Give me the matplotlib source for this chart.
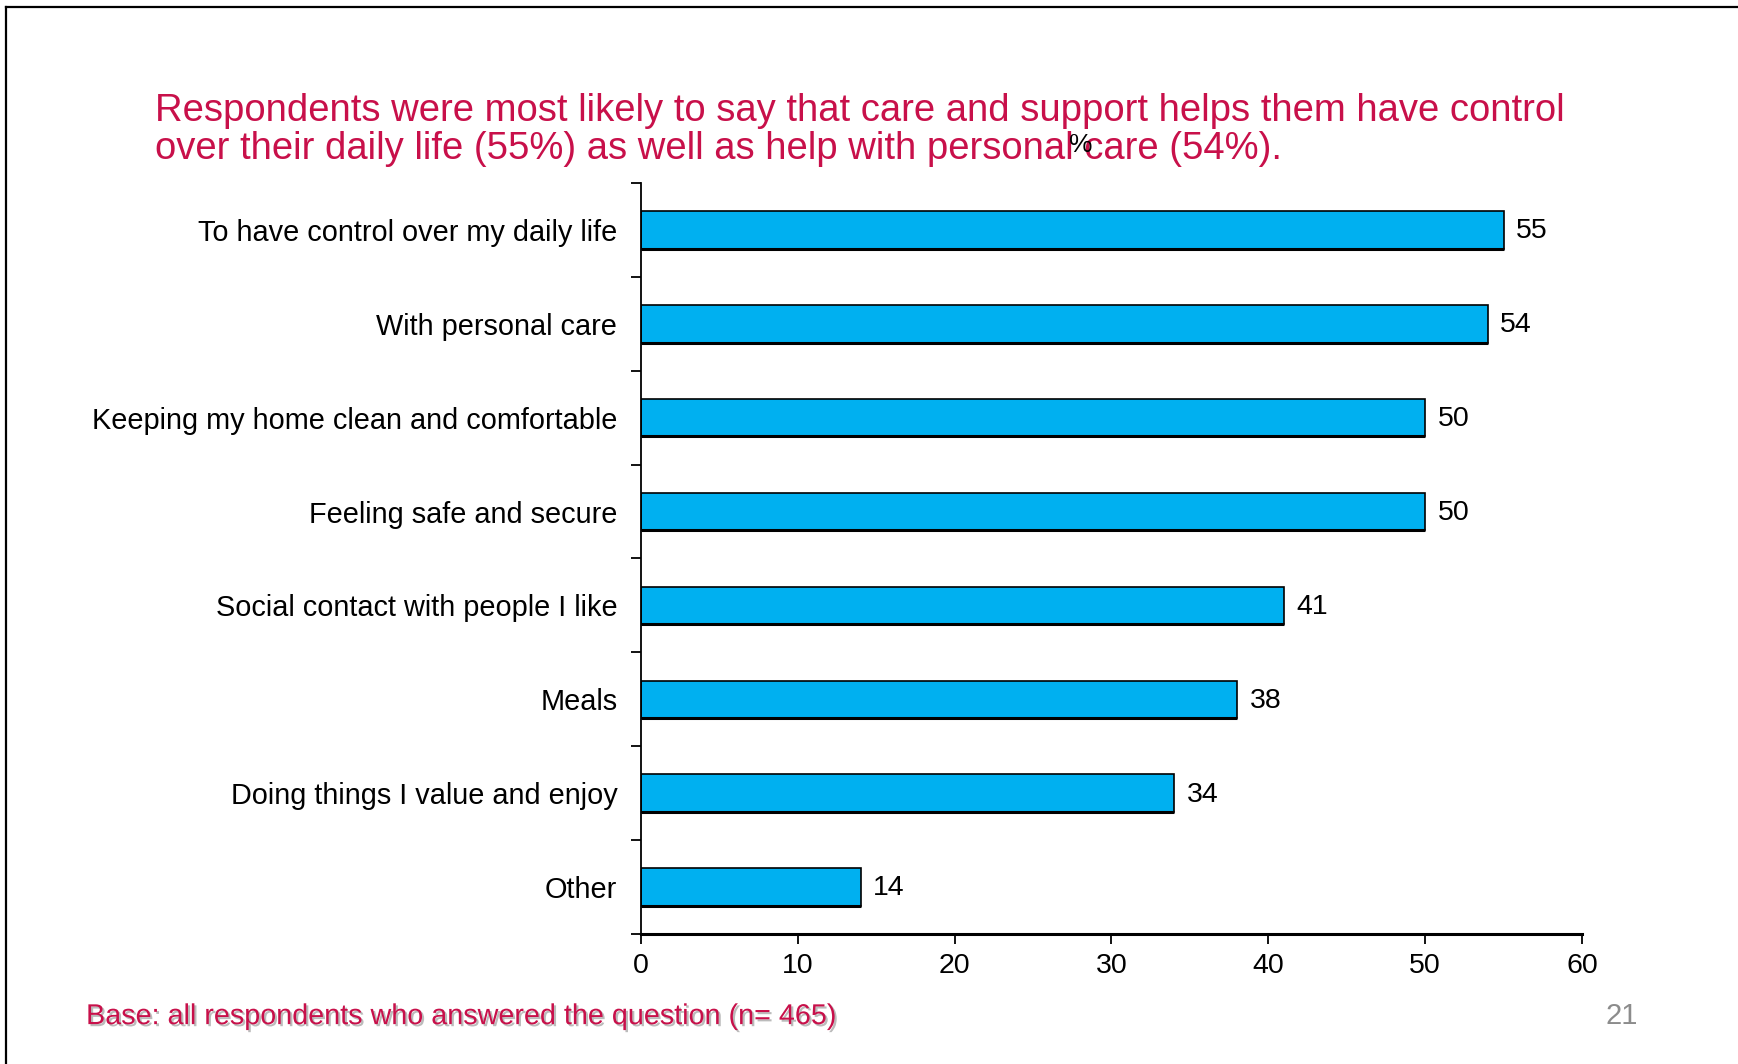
import matplotlib.pyplot as plt
import matplotlib.patheffects as pe
from matplotlib.lines import Line2D

categories = ['To have control over my daily life', 'With personal care',
              'Keeping my home clean and comfortable', 'Feeling safe and secure',
              'Social contact with people I like', 'Meals',
              'Doing things I value and enjoy', 'Other']
values = [55, 54, 50, 50, 41, 38, 34, 14]
xticks = [0, 10, 20, 30, 40, 50, 60]

title_text = ('Respondents were most likely to say that care and support helps them have control\n'
              'over their daily life (55%) as well as help with personal care (54%).')
base_text = 'Base: all respondents who answered the question (n= 465)'
page_no = '21'

red = '#C8104A'
plt.rcParams['font.family'] = ['Liberation Sans', 'DejaVu Sans']

fig = plt.figure(figsize=(17.38, 10.64), dpi=100)
ax = fig.add_axes([0.3688, 0.1222, 0.5414, 0.7058])

pos = list(range(len(categories)))
bar_h = 0.40
ax.barh(pos, values, height=bar_h, color='#00B0F0', edgecolor='black', linewidth=1.2)
# slightly heavier bottom edge, like the original
ax.hlines([p + bar_h / 2 for p in pos], 0, values, color='black', lw=2.2)
for p, v in zip(pos, values):
    ax.annotate(str(v), (v, p), xytext=(9, -1), textcoords='offset points',
                va='center', ha='left', fontsize=20.5)

ax.set_xlim(0, 60)
ax.set_ylim(len(categories) - 0.5, -0.5)
ax.set_xticks(xticks)
ax.set_yticks(pos)
ax.set_yticklabels(categories, fontsize=20.8)
ax.set_yticks([p - 0.5 for p in pos] + [len(categories) - 0.5], minor=True)
ax.tick_params(axis='y', which='major', length=0, pad=17)
ax.tick_params(axis='y', which='minor', length=7, width=1.3, direction='out')
ax.tick_params(axis='x', labelsize=20.5, length=7, width=1.3, pad=7)

for s in ['top', 'right']:
    ax.spines[s].set_visible(False)
ax.spines['left'].set_linewidth(1.3)
ax.spines['bottom'].set_linewidth(2.2)

fig.text(0.0892, 0.878, title_text, color=red, fontsize=27.5, va='center', ha='left',
         linespacing=1.06)
fig.text(0.622, 0.864, '%', fontsize=19, ha='center', va='center')

fig.text(0.0495, 0.045, base_text, color=red, fontsize=20.7, ha='left', va='center',
         path_effects=[pe.SimplePatchShadow(offset=(1.5, -1.5), shadow_rgbFace='#bbbbbb', alpha=1),
                       pe.Normal()])
fig.text(0.9235, 0.045, page_no, color='#8c8c8c', fontsize=21, ha='left', va='center')

# slide frame
fig.add_artist(Line2D([0.0035, 1.0], [0.9935, 0.9935], color='black', lw=1.6,
                      transform=fig.transFigure))
fig.add_artist(Line2D([0.0035, 0.0035], [0.0, 0.9935], color='black', lw=1.6,
                      transform=fig.transFigure))

fig.savefig('out.png', dpi=100)
